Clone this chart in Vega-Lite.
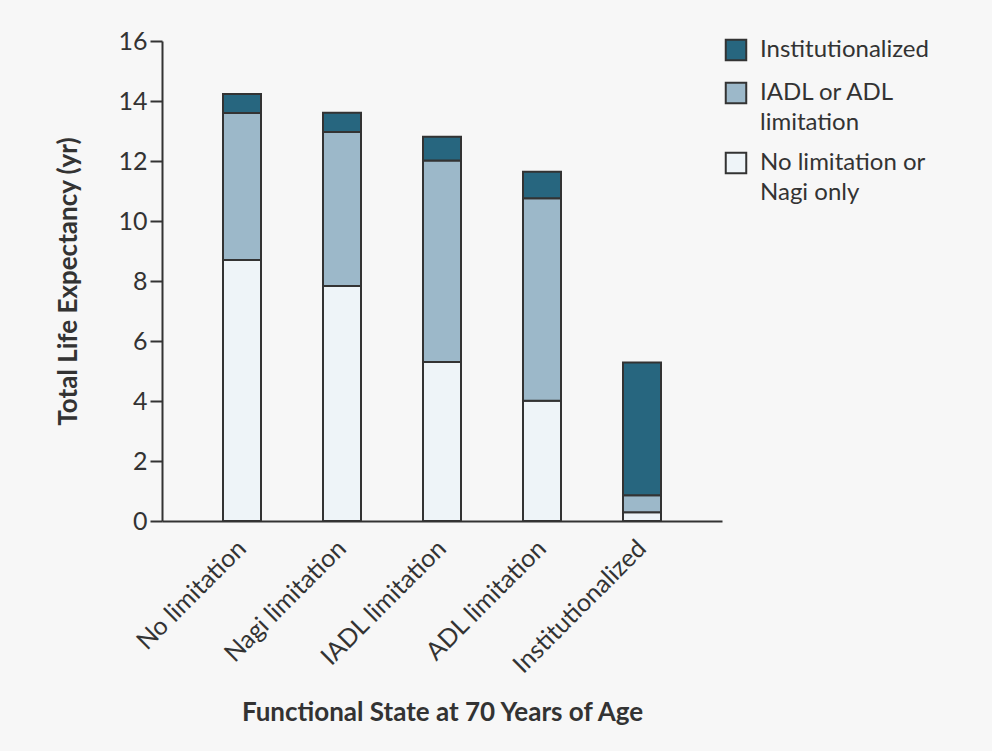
{
  "$schema": "https://vega.github.io/schema/vega-lite/v6.json",
  "width": 560,
  "height": 480,
  "autosize": "none",
  "padding": {"left": 162, "top": 41, "right": 270, "bottom": 230},
  "background": "#f7f7f7",
  "config": {"view": {"stroke": null}, "font": "Lato"},
  "data": {
    "values": [
      {"state": "No limitation", "segment": "No limitation or Nagi only", "years": 8.7},
      {"state": "No limitation", "segment": "IADL or ADL limitation", "years": 4.9},
      {"state": "No limitation", "segment": "Institutionalized", "years": 0.63},
      {"state": "Nagi limitation", "segment": "No limitation or Nagi only", "years": 7.83},
      {"state": "Nagi limitation", "segment": "IADL or ADL limitation", "years": 5.14},
      {"state": "Nagi limitation", "segment": "Institutionalized", "years": 0.64},
      {"state": "IADL limitation", "segment": "No limitation or Nagi only", "years": 5.3},
      {"state": "IADL limitation", "segment": "IADL or ADL limitation", "years": 6.72},
      {"state": "IADL limitation", "segment": "Institutionalized", "years": 0.79},
      {"state": "ADL limitation", "segment": "No limitation or Nagi only", "years": 4.01},
      {"state": "ADL limitation", "segment": "IADL or ADL limitation", "years": 6.75},
      {"state": "ADL limitation", "segment": "Institutionalized", "years": 0.88},
      {"state": "Institutionalized", "segment": "No limitation or Nagi only", "years": 0.29},
      {"state": "Institutionalized", "segment": "IADL or ADL limitation", "years": 0.57},
      {"state": "Institutionalized", "segment": "Institutionalized", "years": 4.42}
    ]
  },
  "transform": [
    {"calculate": "indexof(['No limitation or Nagi only','IADL or ADL limitation','Institutionalized'], datum.segment)", "as": "stackOrder"}
  ],
  "mark": {"type": "bar", "stroke": "#333333", "strokeWidth": 2},
  "encoding": {
    "x": {
      "field": "state",
      "type": "nominal",
      "sort": ["No limitation", "Nagi limitation", "IADL limitation", "ADL limitation", "Institutionalized"],
      "scale": {"paddingInner": 0.62, "paddingOuter": 0.61},
      "axis": {
        "title": "Functional State at 70 Years of Age",
        "titleFontSize": 26,
        "titleFontWeight": "bold",
        "titleColor": "#333333",
        "titlePadding": 22,
        "labelAngle": -45,
        "labelAlign": "right",
        "labelBaseline": "middle",
        "labelFontSize": 25,
        "labelColor": "#333333",
        "labelPadding": 23,
        "ticks": false,
        "domainColor": "#333333",
        "domainWidth": 2
      }
    },
    "y": {
      "field": "years",
      "type": "quantitative",
      "stack": "zero",
      "scale": {"domain": [0, 16], "nice": false},
      "axis": {
        "title": "Total Life Expectancy (yr)",
        "titleFontSize": 26,
        "titleFontWeight": "bold",
        "titleColor": "#333333",
        "titlePadding": 36,
        "values": [0, 2, 4, 6, 8, 10, 12, 14, 16],
        "grid": false,
        "labelFontSize": 25,
        "labelColor": "#333333",
        "labelPadding": 3,
        "tickSize": 12,
        "tickColor": "#333333",
        "tickWidth": 2,
        "domainColor": "#333333",
        "domainWidth": 2
      }
    },
    "color": {
      "field": "segment",
      "type": "nominal",
      "scale": {
        "domain": ["Institutionalized", "IADL or ADL limitation", "No limitation or Nagi only"],
        "range": ["#27667f", "#9cb8c9", "#eef4f8"]
      },
      "legend": {
        "orient": "none",
        "legendX": 562,
        "legendY": -3,
        "title": null,
        "padding": 0,
        "symbolType": "square",
        "symbolSize": 420,
        "symbolStrokeColor": "#333333",
        "symbolStrokeWidth": 2,
        "symbolOpacity": 1,
        "labelFontSize": 24,
        "labelColor": "#333333",
        "labelOffset": 12,
        "labelLimit": 400,
        "rowPadding": 13,
        "encode": {"labels": {"update": {"lineHeight": {"value": 30}}}},
        "labelExpr": "datum.label == 'IADL or ADL limitation' ? ['IADL or ADL', 'limitation'] : datum.label == 'No limitation or Nagi only' ? ['No limitation or', 'Nagi only'] : datum.label"
      }
    },
    "order": {"field": "stackOrder", "type": "quantitative"}
  }
}
